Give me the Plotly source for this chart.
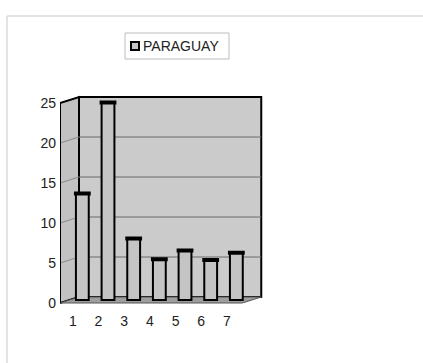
import plotly.graph_objects as go

# Data
categories = [1, 2, 3, 4, 5, 6, 7]
paraguay = [13.3, 24.7, 7.7, 5.1, 6.2, 5.0, 5.9]
y_ticks = [0, 5, 10, 15, 20, 25]
series_name = "PARAGUAY"

W, H = 423, 363
FONT = "Liberation Sans, Arial, sans-serif"

# Pixel geometry of the front plane of the 3D box
PX_LEFT = 60.0        # x pixel of category 0.5
PX_PER_CAT = 25.67
PX_ZERO = 303.0       # y pixel of value 0
PX_PER_UNIT = 8.0

# Axis extents (data units) and the depth offset of the box
X0, X1 = 0.5, 7.6
Y0, Y1 = 0.0, 25.0
DX, DY = 0.74, 0.75
XR = 8.45
YB, YT = -0.3, 26.0


def px_x(v):
    return PX_LEFT + (v - 0.5) * PX_PER_CAT


def px_y(v):
    return PX_ZERO - (v - Y0) * PX_PER_UNIT


xdom = [px_x(0.5) / W, px_x(XR) / W]
ydom = [1 - px_y(YB) / H, 1 - px_y(YT) / H]

fig = go.Figure()

# Bars sit half-way into the box
fig.add_trace(go.Bar(
    x=categories, y=paraguay, name=series_name,
    xaxis="x2", yaxis="y2", width=0.5,
    marker=dict(color="#c4c4c4", line=dict(color="#000000", width=2)),
    showlegend=False,
))
# Dark cap on each column
fig.add_trace(go.Scatter(
    x=categories, y=paraguay, xaxis="x2", yaxis="y2", mode="markers",
    marker=dict(symbol="line-ew", size=12, line=dict(color="#000000", width=4)),
    showlegend=False, hoverinfo="skip",
))

shapes = []
# Back wall
shapes.append(dict(type="rect", xref="x", yref="y", layer="below",
                   x0=X0 + DX, x1=X1 + DX, y0=Y0 + DY, y1=Y1 + DY,
                   fillcolor="#cbcbcb", line=dict(color="#000000", width=2)))
# Side wall
shapes.append(dict(type="path", xref="x", yref="y", layer="below",
                   path=f"M {X0},{Y0} L {X0},{Y1} L {X0 + DX},{Y1 + DY} L {X0 + DX},{Y0 + DY} Z",
                   fillcolor="#c2c2c2", line=dict(color="#000000", width=2)))
# Floor
shapes.append(dict(type="path", xref="x", yref="y", layer="below",
                   path=f"M {X0},{Y0} L {X1},{Y0} L {X1 + DX},{Y0 + DY} L {X0 + DX},{Y0 + DY} Z",
                   fillcolor="#9e9e9e", line=dict(color="#555555", width=1)))
# Gridlines on the back and side walls
for t in y_ticks[1:-1]:
    shapes.append(dict(type="line", xref="x", yref="y", layer="below",
                       x0=X0 + DX, x1=X1 + DX, y0=t + DY, y1=t + DY,
                       line=dict(color="#6a6a6a", width=1)))
    shapes.append(dict(type="line", xref="x", yref="y", layer="below",
                       x0=X0, x1=X0 + DX, y0=t, y1=t + DY,
                       line=dict(color="#8a8a8a", width=1)))
# Redraw the side wall's front edge on top of the floor
shapes.append(dict(type="line", xref="x", yref="y", layer="below",
                   x0=X0, x1=X0, y0=Y0, y1=Y1,
                   line=dict(color="#000000", width=2)))

# Chart area border (top and left edges visible)
shapes.append(dict(type="rect", xref="paper", yref="paper",
                   x0=7 / W, x1=1.05, y0=-0.05, y1=1 - 16 / H,
                   line=dict(color="#c8c8c8", width=1)))
# Legend box and key
shapes.append(dict(type="rect", xref="paper", yref="paper",
                   x0=125 / W, x1=229 / W, y0=1 - 59 / H, y1=1 - 33 / H,
                   line=dict(color="#bdbdbd", width=1)))
shapes.append(dict(type="rect", xref="paper", yref="paper",
                   x0=131 / W, x1=139 / W, y0=1 - 50 / H, y1=1 - 42 / H,
                   fillcolor="#c4c4c4", line=dict(color="#000000", width=2)))

annotations = [dict(text=series_name, xref="paper", yref="paper",
                    x=141 / W, y=1 - 46 / H, xanchor="left", yanchor="middle",
                    showarrow=False, font=dict(family=FONT, size=14, color="#222222"))]

axis_common = dict(showgrid=False, zeroline=False, showline=False, automargin=False)

fig.update_layout(
    width=W, height=H, autosize=False,
    margin=dict(l=0, r=0, t=0, b=0, pad=0, autoexpand=False),
    paper_bgcolor="#ffffff", plot_bgcolor="rgba(0,0,0,0)",
    bargap=0.5,
    showlegend=False,
    shapes=shapes, annotations=annotations,
    xaxis=dict(domain=xdom, range=[0.5, XR], tickvals=categories,
               ticktext=[str(c) for c in categories], ticks="",
               tickfont=dict(family=FONT, size=14, color="#222222"),
               ticklabelstandoff=6, **axis_common),
    yaxis=dict(domain=ydom, range=[YB, YT], tickvals=y_ticks, ticks="",
               tickfont=dict(family=FONT, size=14, color="#222222"),
               ticklabelstandoff=3, **axis_common),
    xaxis2=dict(domain=xdom, range=[0.5 - DX / 2, XR - DX / 2], overlaying="x",
                anchor="y2", visible=False, **axis_common),
    yaxis2=dict(domain=ydom, range=[YB - DY / 2, YT - DY / 2], overlaying="y",
                anchor="x2", visible=False, **axis_common),
)

fig.write_html("out.html")
